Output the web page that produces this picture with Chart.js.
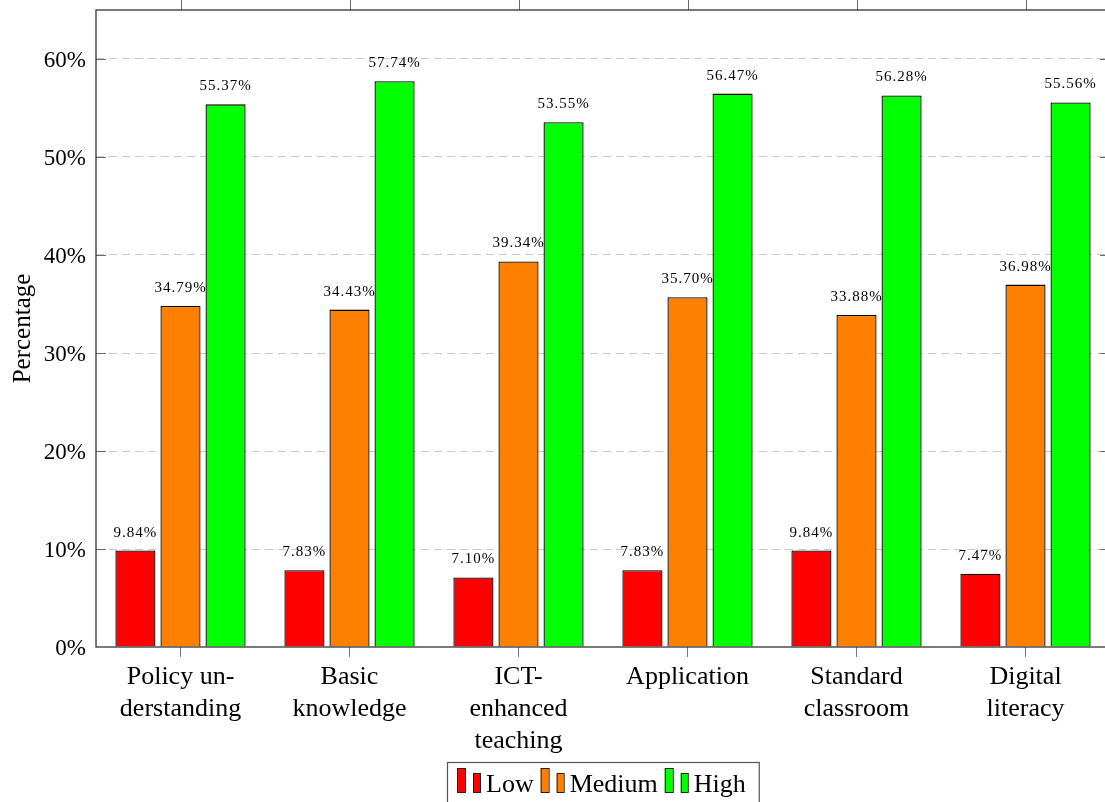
<!DOCTYPE html>
<html>
<head>
<meta charset="utf-8">
<script src="https://cdn.jsdelivr.net/npm/chart.js@4.4.1/dist/chart.umd.min.js"></script>
<style>
  html, body { margin: 0; padding: 0; background: #fff; overflow: hidden; }
  #wrap { width: 1112px; height: 802px; }
</style>
</head>
<body>
<div id="wrap"><canvas id="chart" width="1112" height="802"></canvas></div>
<script>
const categories = [
  ["Policy un-", "derstanding"],
  ["Basic", "knowledge"],
  ["ICT-", "enhanced", "teaching"],
  "Application",
  ["Standard", "classroom"],
  ["Digital", "literacy"]
];
const seriesNames = ["Low", "Medium", "High"];
const lowValues = [9.84, 7.83, 7.10, 7.83, 9.84, 7.47];
const mediumValues = [34.79, 34.43, 39.34, 35.70, 33.88, 36.98];
const highValues = [55.37, 57.74, 53.55, 56.47, 56.28, 55.56];
const seriesColors = ["#ff0000", "#ff8000", "#00ff00"];
const yTicks = [0, 10, 20, 30, 40, 50, 60];
const yMax = 65;

const SERIF = '"Liberation Serif", "DejaVu Serif", serif';

/* ---------- 枠線と内向きの目盛り ---------- */
const framePlugin = {
  id: "frame",
  afterDatasetsDraw(chart) {
    const { ctx, chartArea: a, scales } = chart;
    ctx.save();
    ctx.strokeStyle = "#6a6a6a";
    ctx.lineWidth = 1;
    ctx.beginPath();
    yTicks.forEach(v => {
      if (v === 0) return;
      const y = Math.round(scales.y.getPixelForValue(v)) + 0.5;
      ctx.moveTo(a.left, y); ctx.lineTo(a.left + 10, y);
      ctx.moveTo(a.right - 10, y); ctx.lineTo(a.right, y);
    });
    categories.forEach((c, i) => {
      const x = Math.round(scales.x.getPixelForValue(i)) + 0.5;
      ctx.moveTo(x, a.top); ctx.lineTo(x, a.top - 10);
    });
    ctx.stroke();

    ctx.strokeStyle = "#333";
    ctx.lineWidth = 1.3;
    ctx.strokeRect(a.left, a.top, a.right - a.left, a.bottom - a.top);
    ctx.restore();
  }
};

/* ---------- 棒の上の数値 ---------- */
const valueLabelPlugin = {
  id: "valueLabels",
  afterDatasetsDraw(chart) {
    const ctx = chart.ctx;
    ctx.save();
    ctx.font = "15px " + SERIF;
    ctx.letterSpacing = "1px";
    ctx.fillStyle = "#000";
    ctx.textAlign = "center";
    ctx.textBaseline = "middle";
    chart.data.datasets.forEach((ds, di) => {
      chart.getDatasetMeta(di).data.forEach((bar, i) => {
        ctx.fillText(ds.data[i].toFixed(2) + "%", bar.x, bar.y - 18);
      });
    });
    ctx.restore();
  }
};

/* ---------- 凡例（二本棒のアイコン付き） ---------- */
const legendPlugin = {
  id: "barLegend",
  afterDraw(chart) {
    const { ctx, chartArea: a } = chart;
    const sets = chart.data.datasets;
    ctx.save();
    ctx.font = "26px " + SERIF;
    ctx.textBaseline = "alphabetic";
    const iconW = 29, gap = 7, padL = 10, padR = 13;
    const widths = sets.map(ds => ctx.measureText(ds.label).width);
    const total = padL + padR + sets.length * iconW +
      widths.reduce((s, w) => s + w, 0) + gap * (sets.length - 1);
    const left = Math.round((a.left + a.right) / 2 - total / 2);
    const top = 762, base = 792;

    ctx.strokeStyle = "#555";
    ctx.lineWidth = 1.2;
    ctx.strokeRect(left + 0.5, top + 0.5, total, 60);

    let x = left + padL;
    sets.forEach((ds, i) => {
      ctx.fillStyle = ds.backgroundColor;
      ctx.strokeStyle = "#222";
      ctx.lineWidth = 1;
      ctx.fillRect(x, base - 24, 8, 24);
      ctx.strokeRect(x + 0.5, base - 24 + 0.5, 8, 24);
      ctx.fillRect(x + 16, base - 19, 7, 19);
      ctx.strokeRect(x + 16.5, base - 19 + 0.5, 7, 19);
      ctx.fillStyle = "#000";
      ctx.fillText(ds.label, x + iconW, base);
      x += iconW + widths[i] + gap;
    });
    ctx.restore();
  }
};

function makeDataset(name, values, color) {
  return {
    label: name,
    data: values,
    backgroundColor: color,
    borderColor: "#000",
    borderWidth: 1.3,
    categoryPercentage: 0.8,
    barPercentage: 0.89
  };
}

new Chart(document.getElementById("chart"), {
  type: "bar",
  data: {
    labels: categories,
    datasets: [
      makeDataset(seriesNames[0], lowValues, seriesColors[0]),
      makeDataset(seriesNames[1], mediumValues, seriesColors[1]),
      makeDataset(seriesNames[2], highValues, seriesColors[2])
    ]
  },
  options: {
    responsive: false,
    animation: false,
    layout: { padding: { top: 10, right: 2, left: 0, bottom: 0 } },
    plugins: {
      legend: { display: false },
      tooltip: { enabled: false }
    },
    scales: {
      x: {
        offset: true,
        grid: { offset: false, drawOnChartArea: false, tickLength: 10, color: "#777" },
        border: { display: false },
        ticks: {
          font: { family: SERIF, size: 26, lineHeight: 1.24 },
          color: "#000",
          padding: 4,
          maxRotation: 0,
          autoSkip: false
        },
        afterFit(s) { s.height = 155; }
      },
      y: {
        min: 0,
        max: yMax,
        afterBuildTicks(s) { s.ticks = yTicks.map(v => ({ value: v })); },
        grid: {
          color: c => (c.tick && c.tick.value === 0) ? "rgba(0,0,0,0)" : "#c8c8c8",
          drawTicks: false
        },
        border: { display: false, dash: [8, 5] },
        ticks: {
          callback: v => v + "%",
          // lineHeight 0: keep the top label from pushing the plot area down
          font: { family: SERIF, size: 23, lineHeight: 0 },
          color: "#000",
          padding: 10,
          labelOffset: 2
        },
        title: {
          display: true,
          text: "Percentage",
          font: { family: SERIF, size: 25 },
          color: "#000",
          padding: { top: 8, bottom: 0 }
        },
        afterFit(s) { s.width = 96; }
      }
    }
  },
  plugins: [framePlugin, valueLabelPlugin, legendPlugin]
});
</script>
</body>
</html>
